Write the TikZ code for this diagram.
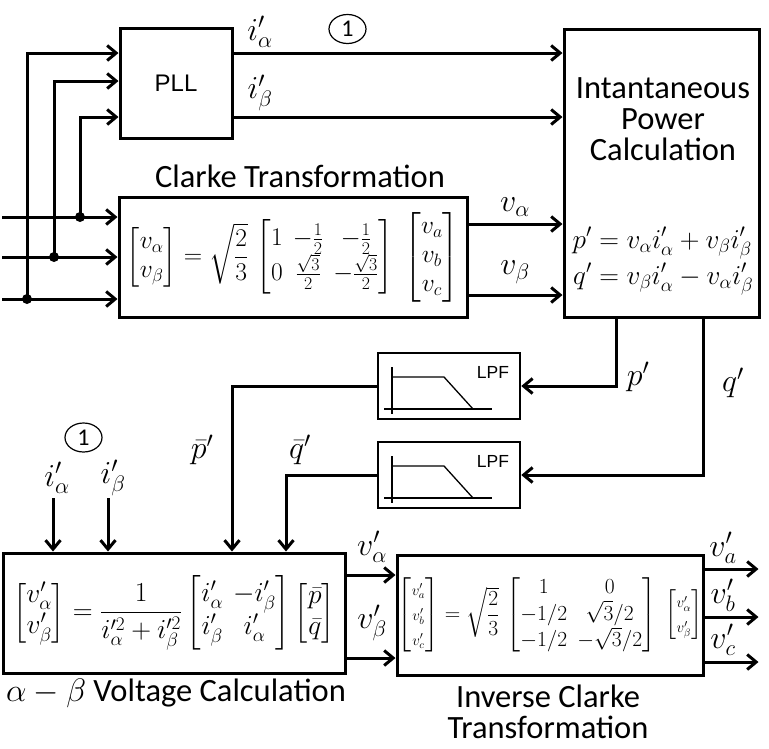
\RequirePackage{fix-cm}
\documentclass[tikz,border=0pt]{standalone}
\usepackage{amsmath}
\usepackage[no-math]{fontspec}
\newfontfamily\calib{Carlito}
\newfontfamily\arial{Liberation Sans}
\usetikzlibrary{arrows.meta,shapes.geometric}

\begin{document}
\begin{tikzpicture}[x=1pt,y=-1pt,line width=3pt,
  every node/.style={inner sep=0pt},
  >={Straight Barb[length=9pt,width=15pt]},
  blk/.style={draw, line width=3pt},
  lbl/.style={font=\fontsize{32}{34}\selectfont},
  eqn/.style={font=\fontsize{21.5}{25}\selectfont},
  captxt/.style={font=\calib\fontsize{32.5}{31}\selectfont, align=center},
  num/.style={draw, ellipse, line width=1.2pt, minimum width=37, minimum height=29, font=\calib\fontsize{24}{24}\selectfont}]
\useasboundingbox (0,0) rectangle (769,748);

% blocks
\node[blk, minimum width=112, minimum height=110, font=\arial\fontsize{24}{24}\selectfont] (pll) at (176,83) {PLL};
\node[blk, minimum width=348, minimum height=120, font=\fontsize{25.5}{29}\selectfont] (clarke) at (293,257)
  {$\begin{bmatrix} v_\alpha\\ v_\beta\end{bmatrix}=\sqrt{\dfrac{2}{3}}\,\begin{bmatrix}1 & -\frac12 & -\frac12\\ 0 & \frac{\sqrt3}{2} & -\frac{\sqrt3}{2}\end{bmatrix}\;\begin{bmatrix}v_a\\ v_b\\ v_c\end{bmatrix}$};
\node[blk, minimum width=195, minimum height=288] (ipc) at (661.5,173) {};
\node[blk, line width=2.5pt, minimum width=142, minimum height=66] (lpfa) at (449,386) {};
\node[blk, line width=2.5pt, minimum width=142, minimum height=66] (lpfb) at (449,475) {};
\node[blk, minimum width=342, minimum height=120, font=\fontsize{27.5}{31}\selectfont] (abv) at (174,613)
  {$\begin{bmatrix} v'_\alpha\\ v'_\beta\end{bmatrix}=\dfrac{1}{i'^2_\alpha+i'^2_\beta}\begin{bmatrix}i'_\alpha & -i'_\beta\\ i'_\beta & i'_\alpha\end{bmatrix}\begin{bmatrix}\bar p\\ \bar q\end{bmatrix}$};
\node[blk, minimum width=306, minimum height=120, eqn] (iclarke) at (550,615)
  {$\begin{bmatrix}\scriptstyle v'_a\\ \scriptstyle v'_b\\ \scriptstyle v'_c\end{bmatrix}=\sqrt{\dfrac{2}{3}}\,\begin{bmatrix}1 & 0\\ -1/2 & \sqrt3/2\\ -1/2 & -\sqrt3/2\end{bmatrix}\;\begin{bmatrix}\scriptstyle v'_\alpha\\ \scriptstyle v'_\beta\end{bmatrix}$};

% texts
\node[captxt] (tclarke) at (300,176) {Clarke Transformation};
\node[captxt] (tipc) at (663,119) {Intantaneous\\Power\\Calculation};
\node[font=\fontsize{27.3}{31}\selectfont] (eipc) at (663,261)
  {$\begin{aligned} p'&=v_\alpha i'_\alpha+v_\beta i'_\beta\\ q'&=v_\beta i'_\alpha-v_\alpha i'_\beta\end{aligned}$};
\node[captxt] (tabv) at (176,693) {$\alpha-\beta$ Voltage Calculation};
\node[captxt] (ticl) at (548,712) {Inverse Clarke\\Transformation};
\node[num] (c1) at (347.5,29) {1};
\node[num] (c2) at (83.5,437.5) {1};

% LPF marks
\foreach \f in {lpfa,lpfb} {
  \node[font=\arial\fontsize{17.5}{17.5}\selectfont] at ([shift={(44,-14)}]\f.center) {LPF};
  \draw[line width=1.3pt] ([shift={(-57,-19)}]\f.center) -- ([shift={(-57,28)}]\f.center);
  \draw[line width=1.3pt] ([shift={(-65,23)}]\f.center) -- ([shift={(43,23)}]\f.center);
  \draw[line width=1.3pt] ([shift={(-57,-9)}]\f.center) -- ([shift={(-5,-9)}]\f.center) -- ([shift={(24,23)}]\f.center);
}

% inputs
\coordinate (ina) at (2,217);
\coordinate (inb) at (2,257);
\coordinate (inc) at (2,299);
\coordinate (ja) at (80,217);
\coordinate (jb) at (54,257);
\coordinate (jc) at (27,299);
\draw[->] (ina) -- (ina -| clarke.west);
\draw[->] (inb) -- (inb -| clarke.west);
\draw[->] (inc) -- (inc -| clarke.west);
\draw[->] (jc) |- ([yshift=30pt]pll.west);
\draw[->] (jb) |- ([yshift=2pt]pll.west);
\draw[->] (ja) |- ([yshift=-34pt]pll.west);
\foreach \j in {ja,jb,jc} \fill (\j) circle (5);

% PLL and Clarke outputs
\draw[->] ([yshift=30pt]pll.east) coordinate (ia) -- (ia -| ipc.west);
\draw[->] ([yshift=-34pt]pll.east) coordinate (ib) -- (ib -| ipc.west);
\draw[->] ([yshift=33pt]clarke.east) coordinate (va) -- (va -| ipc.west);
\draw[->] ([yshift=-38pt]clarke.east) coordinate (vb) -- (vb -| ipc.west);
\node[lbl] at (260,32) {$i'_\alpha$};
\node[lbl] at (260,93) {$i'_\beta$};
\node[lbl] at (515,207) {$v_\alpha$};
\node[lbl] at (515,272) {$v_\beta$};

% power to filters
\draw[->] ([xshift=-45.5pt]ipc.south) |- (lpfa.east);
\draw[->] ([xshift=41.5pt]ipc.south) |- (lpfb.east);
\node[lbl] at (638,377) {$p'$};
\node[lbl] at (733,383) {$q'$};

% filters to voltage calculation
\draw[->] (lpfa.west) -| ([xshift=58pt]abv.north);
\draw[->] (lpfb.west) -| ([xshift=112pt]abv.north);
\node[lbl] at (202,450) {$\bar{p}'$};
\node[lbl] at (300,450) {$\bar{q}'$};
\coordinate (ua) at (53,498);
\coordinate (ub) at (108,498);
\draw[->] (ua) -- (ua |- abv.north);
\draw[->] (ub) -- (ub |- abv.north);
\node[lbl] at (57,478) {$i'_\alpha$};
\node[lbl] at (113,478) {$i'_\beta$};

% voltage calculation to inverse Clarke
\draw[->] ([yshift=38pt]abv.east) coordinate (wa) -- (wa -| iclarke.west);
\draw[->] ([yshift=-45pt]abv.east) coordinate (wb) -- (wb -| iclarke.west);
\node[lbl] at (372,547) {$v'_\alpha$};
\node[lbl] at (372,623) {$v'_\beta$};

% outputs
\draw[->] ([yshift=46pt]iclarke.east) -- ++(54,0);
\draw[->] ([yshift=-2pt]iclarke.east) -- ++(54,0);
\draw[->] ([yshift=-47pt]iclarke.east) -- ++(54,0);
\node[lbl] at (723,548) {$v'_a$};
\node[lbl] at (723,595) {$v'_b$};
\node[lbl] at (723,640) {$v'_c$};
\end{tikzpicture}
\end{document}
